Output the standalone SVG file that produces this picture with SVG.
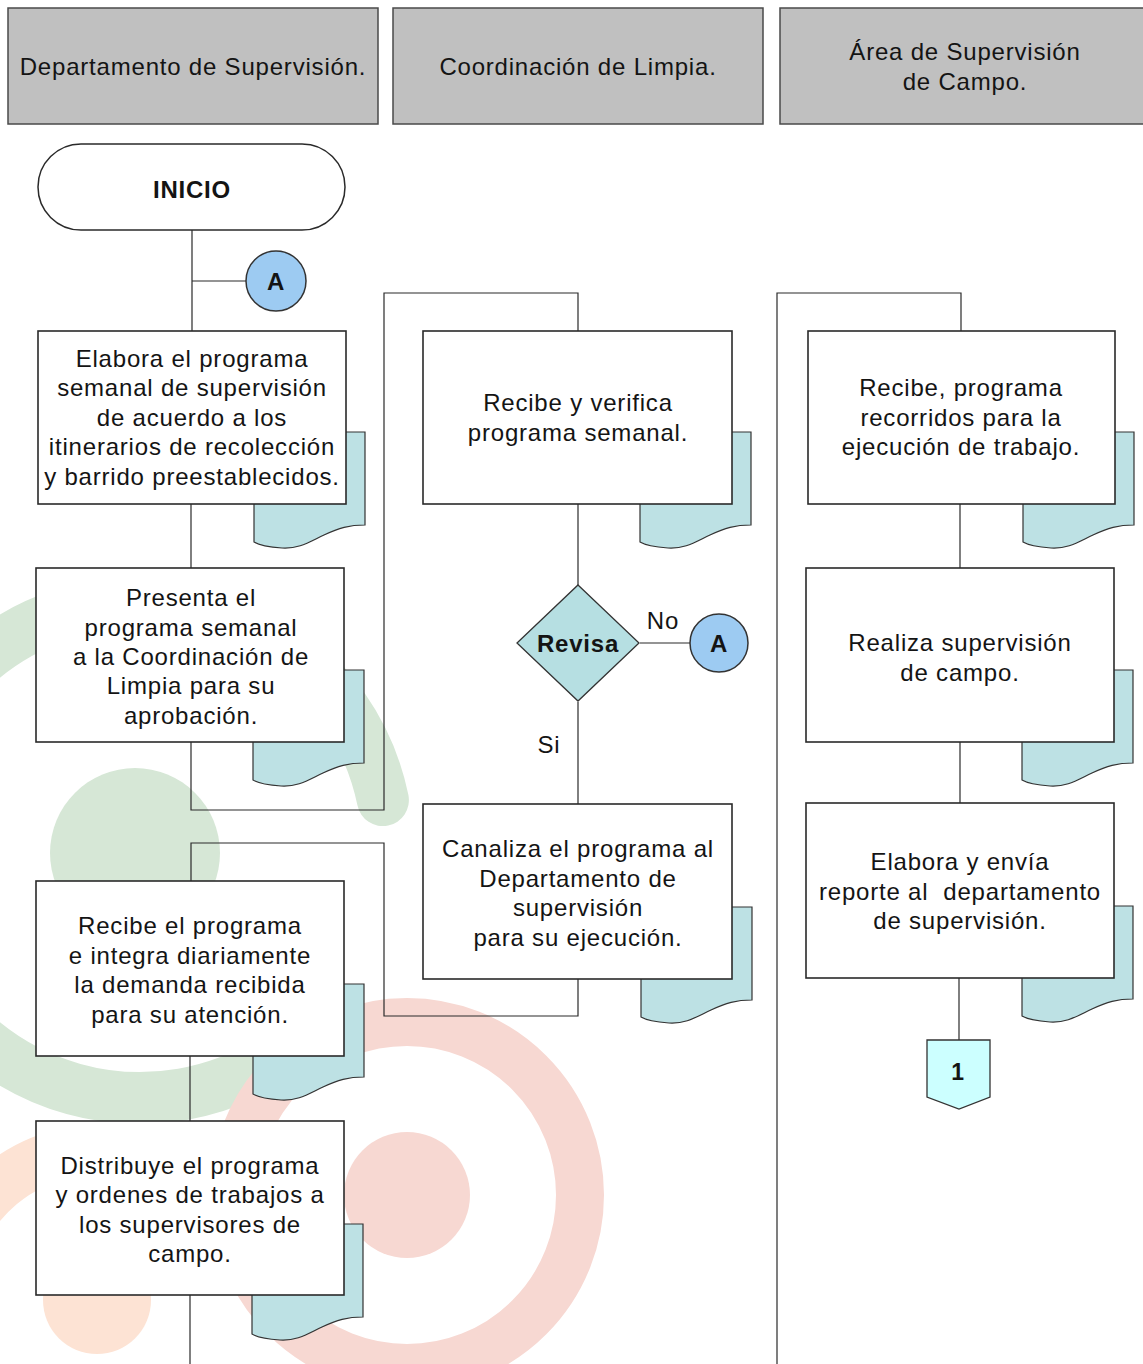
<svg xmlns="http://www.w3.org/2000/svg" xmlns:xlink="http://www.w3.org/1999/xlink" width="1143" height="1364" viewBox="0 0 1143 1364">
<style>
.t{font-family:"Liberation Sans",Arial,sans-serif;font-size:24px;letter-spacing:0.8px;fill:#141414;text-anchor:middle}
.b{font-weight:bold}
.hdr{fill:#c0c0c0;stroke:#4a4a4a;stroke-width:1.5}
.box{fill:#ffffff;stroke:#2a2a2a;stroke-width:1.6}
.doc{fill:#bde1e4;stroke:#333;stroke-width:1.2}
.ln{fill:none;stroke:#2a2a2a;stroke-width:1.2}
.con{fill:#9dcbf2;stroke:#333;stroke-width:1.5}
</style>
<defs>
<path id="docp" d="M0,0 H111 V93 C95,93 85,96 70,103 C55,110 45,117 28,116 C15,115 5,113 0,110 Z"/>
</defs>
<rect width="1143" height="1364" fill="#ffffff"/>
<g id="watermark">
<path d="M382.9,800.1 A248 248 0 1 0 275.1 1058" fill="none" stroke="#d6e7d6" stroke-width="52" stroke-linecap="round"/>
<circle cx="135" cy="853" r="85" fill="#d6e7d6"/>
<circle cx="407" cy="1195" r="173" fill="none" stroke="#f7d8d2" stroke-width="48"/>
<circle cx="407" cy="1195" r="63" fill="#f7d8d2"/>
<path d="M211.9,1203.6 A150 150 0 0 0 -44 1248.7" fill="none" stroke="#fde3d4" stroke-width="50" stroke-linecap="round"/>
<circle cx="97" cy="1300" r="54" fill="#fde3d4"/>
</g>
<g id="headers">
<g id="h1"><rect class="hdr" x="8" y="8" width="370" height="116"/><text class="t" x="193" y="75">Departamento de Supervisión.</text></g>
<g id="h2"><rect class="hdr" x="393" y="8" width="370" height="116"/><text class="t" x="578" y="75">Coordinación de Limpia.</text></g>
<g id="h3"><rect class="hdr" x="780" y="8" width="370" height="116"/><text class="t" x="965" y="60">Área de Supervisión</text><text class="t" x="965" y="90">de Campo.</text></g>
</g>
<g id="connectors">
<path class="ln" d="M192,230 V331 M192,281 H246"/>
<path class="ln" d="M191,504 V568"/>
<path class="ln" d="M191,742 V810 H384 V293 H578 V331"/>
<path class="ln" d="M578,504 V585"/>
<path class="ln" d="M640,643 H690"/>
<path class="ln" d="M578,702 V804"/>
<path class="ln" d="M578,979 V1016 H384 V843 H191 V881"/>
<path class="ln" d="M190,1056 V1121"/>
<path class="ln" d="M190,1295 V1364"/>
<path class="ln" d="M777,1364 V293 H961 V331"/>
<path class="ln" d="M960,504 V568"/>
<path class="ln" d="M960,742 V803"/>
<path class="ln" d="M959,978 V1040"/>
</g>
<g id="inicio"><rect x="38" y="144" width="307" height="86" rx="43" fill="#fff" stroke="#2a2a2a" stroke-width="1.5"/><text class="t b" x="192" y="198">INICIO</text></g>
<g id="connA1"><circle class="con" cx="276" cy="281" r="30"/><text class="t b" x="276" y="290">A</text></g>
<g id="n1"><use href="#docp" class="doc" x="254" y="432"/><rect class="box" x="38" y="331" width="308" height="173"/>
<text class="t" x="192" y="367">Elabora el programa</text><text class="t" x="192" y="396">semanal de supervisión</text><text class="t" x="192" y="426">de acuerdo a los</text><text class="t" x="192" y="455">itinerarios de recolección</text><text class="t" x="192" y="485">y barrido preestablecidos.</text></g>
<g id="n2"><use href="#docp" class="doc" x="253" y="670"/><rect class="box" x="36" y="568" width="308" height="174"/>
<text class="t" x="191" y="606">Presenta el</text><text class="t" x="191" y="636">programa semanal</text><text class="t" x="191" y="665">a la Coordinación de</text><text class="t" x="191" y="694">Limpia para su</text><text class="t" x="191" y="724">aprobación.</text></g>
<g id="n3"><use href="#docp" class="doc" x="640" y="432"/><rect class="box" x="423" y="331" width="309" height="173"/>
<text class="t" x="578" y="411">Recibe y verifica</text><text class="t" x="578" y="441">programa semanal.</text></g>
<g id="decision"><polygon points="578,585 639,643 578,701 517,643" fill="#b6dfe2" stroke="#333" stroke-width="1.3"/><text class="t b" x="578" y="652">Revisa</text>
<text class="t" x="663" y="629">No</text><text class="t" x="549" y="753">Si</text></g>
<g id="connA2"><circle class="con" cx="719" cy="643" r="29"/><text class="t b" x="719" y="652">A</text></g>
<g id="n4"><use href="#docp" class="doc" x="641" y="907"/><rect class="box" x="423" y="804" width="309" height="175"/>
<text class="t" x="578" y="857">Canaliza el programa al</text><text class="t" x="578" y="887">Departamento de</text><text class="t" x="578" y="916">supervisión</text><text class="t" x="578" y="946">para su ejecución.</text></g>
<g id="n5"><use href="#docp" class="doc" x="253" y="984"/><rect class="box" x="36" y="881" width="308" height="175"/>
<text class="t" x="190" y="934">Recibe el programa</text><text class="t" x="190" y="964">e integra diariamente</text><text class="t" x="190" y="993">la demanda recibida</text><text class="t" x="190" y="1023">para su atención.</text></g>
<g id="n6"><use href="#docp" class="doc" x="252" y="1224"/><rect class="box" x="36" y="1121" width="308" height="174"/>
<text class="t" x="190" y="1174">Distribuye el programa</text><text class="t" x="190" y="1203">y ordenes de trabajos a</text><text class="t" x="190" y="1233">los supervisores de</text><text class="t" x="190" y="1262">campo.</text></g>
<g id="n7"><use href="#docp" class="doc" x="1023" y="432"/><rect class="box" x="808" y="331" width="307" height="173"/>
<text class="t" x="961" y="396">Recibe, programa</text><text class="t" x="961" y="426">recorridos para la</text><text class="t" x="961" y="455">ejecución de trabajo.</text></g>
<g id="n8"><use href="#docp" class="doc" x="1022" y="670"/><rect class="box" x="806" y="568" width="308" height="174"/>
<text class="t" x="960" y="651">Realiza supervisión</text><text class="t" x="960" y="681">de campo.</text></g>
<g id="n9"><use href="#docp" class="doc" x="1022" y="906"/><rect class="box" x="806" y="803" width="308" height="175"/>
<text class="t" x="960" y="870">Elabora y envía</text><text class="t" x="960" y="900" style="white-space:pre">reporte al  departamento</text><text class="t" x="960" y="929">de supervisión.</text></g>
<g id="offpage1"><polygon points="927,1040 990,1040 990,1097 959,1109 927,1097" fill="#ccffff" stroke="#333" stroke-width="1.3"/><text class="t b" x="958" y="1080" style="font-size:23px">1</text></g>
</svg>
